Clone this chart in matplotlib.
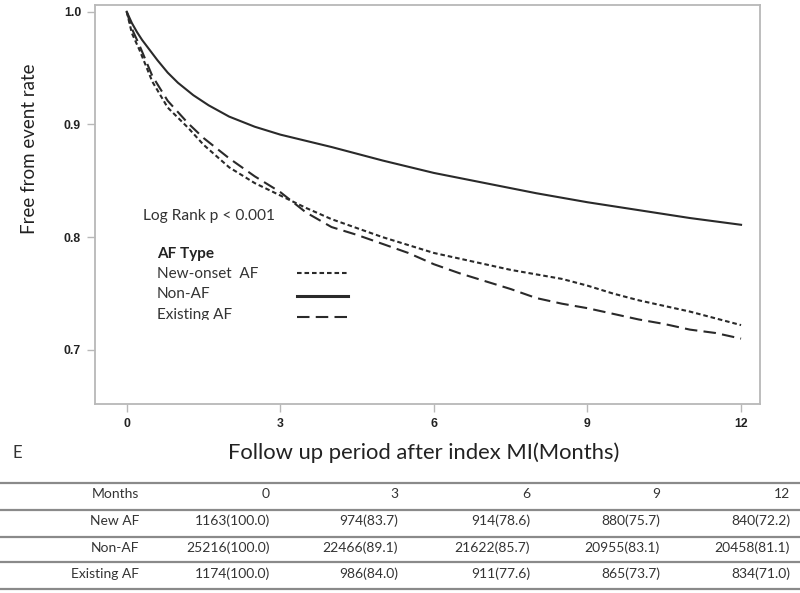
import numpy as np
import matplotlib
matplotlib.use("Agg")
import matplotlib.pyplot as plt
from matplotlib.lines import Line2D
from matplotlib.patches import Rectangle

plt.rcParams["font.family"] = ["Lato", "DejaVu Sans"]

#%%
# curves (months, survival)
months_non = [0, 0.1, 0.2, 0.3, 0.45, 0.6, 0.8, 1.0, 1.3, 1.6, 2.0, 2.5, 3.0, 4.0,
              5.0, 6.0, 7.0, 8.0, 9.0, 10.0, 11.0, 12.0]
surv_non = [1.0, 0.990, 0.982, 0.975, 0.966, 0.957, 0.946, 0.937, 0.926, 0.917,
            0.907, 0.898, 0.891, 0.880, 0.868, 0.857, 0.848, 0.839, 0.831, 0.824,
            0.817, 0.811]

months_af = [0, 0.1, 0.25, 0.5, 0.8, 1.2, 1.5, 2.0, 2.5, 3.0, 3.5, 4.0, 4.5, 5.0,
             5.5, 6.0, 6.5, 7.0, 7.5, 8.0, 8.5, 9.0, 9.5, 10.0, 10.5, 11.0, 11.5, 12.0]
surv_new = [1.0, 0.981, 0.966, 0.938, 0.915, 0.897, 0.882, 0.862, 0.848, 0.837,
            0.826, 0.816, 0.808, 0.800, 0.793, 0.786, 0.781, 0.776, 0.771, 0.767,
            0.763, 0.757, 0.750, 0.744, 0.739, 0.734, 0.728, 0.722]
surv_exist = [1.0, 0.985, 0.970, 0.943, 0.921, 0.901, 0.888, 0.870, 0.854, 0.840,
              0.822, 0.809, 0.802, 0.794, 0.786, 0.776, 0.768, 0.761, 0.754, 0.746,
              0.741, 0.737, 0.732, 0.727, 0.723, 0.718, 0.715, 0.710]

xticks = [0, 3, 6, 9, 12]
yticks = [0.7, 0.8, 0.9, 1.0]

# numbers at risk table
table_header = ["Months", "0", "3", "6", "9", "12"]
table_rows = [
    ["New AF", "1163(100.0)", "974(83.7)", "914(78.6)", "880(75.7)", "840(72.2)"],
    ["Non-AF", "25216(100.0)", "22466(89.1)", "21622(85.7)", "20955(83.1)", "20458(81.1)"],
    ["Existing AF", "1174(100.0)", "986(84.0)", "911(77.6)", "865(73.7)", "834(71.0)"],
]

#%%
W, H = 800, 593
fig = plt.figure(figsize=(W / 100, H / 100), dpi=100)
ax = fig.add_axes([95 / W, 1 - 404 / H, (760 - 95) / W, (404 - 5) / H])

line_col = "#2a2a2a"
short_dash = (0, (2.2, 1.4))
long_dash = (0, (6, 3))
ax.plot(months_af, surv_new, color=line_col, lw=1.5, linestyle=short_dash)
ax.plot(months_non, surv_non, color=line_col, lw=1.5, linestyle="-")
ax.plot(months_af, surv_exist, color=line_col, lw=1.5, linestyle=long_dash)

ax.set_xlim(-0.62, 12.37)
ax.set_ylim(0.652, 1.006)
ax.set_xticks(xticks)
ax.set_yticks(yticks)
ax.set_yticklabels([f"{v:.1f}" for v in yticks])
for s in ax.spines.values():
    s.set_color("#b8b8b8")
    s.set_linewidth(1.3)
ax.tick_params(direction="out", length=6, width=1, color="#b8b8b8",
               labelsize=8.8, labelcolor="#222222", pad=4)
for lab in ax.get_xticklabels() + ax.get_yticklabels():
    lab.set_fontweight("bold")
    lab.set_family("Liberation Sans")

fig.text(30 / W, 1 - 149 / H, "Free from event rate", rotation=90,
         ha="center", va="center", fontsize=13.5, color="#222222")
fig.text(424 / W, 1 - 453 / H, "Follow up period after index MI(Months)",
         ha="center", va="center", fontsize=15.8, color="#222222")
fig.text(12 / W, 1 - 453 / H, "E", ha="left", va="center", fontsize=12,
         color="#333333")

# legend block drawn inside the axes
txt_col = "#333333"
fig.text(143 / W, 1 - 216 / H, "Log Rank p < 0.001", ha="left", va="center",
         fontsize=11.2, color=txt_col)
fig.text(157 / W, 1 - 254 / H, "AF Type", ha="left", va="center",
         fontsize=11, fontweight="bold", color="#222222")
leg_labels = ["New-onset  AF", "Non-AF", "Existing AF"]
leg_styles = [short_dash, "-", long_dash]
leg_y = [274, 294, 315]
leg_line_y = [273, 296, 317]
for lab, ls, ty, ly in zip(leg_labels, leg_styles, leg_y, leg_line_y):
    t = fig.text(157 / W, 1 - ty / H, lab, ha="left", va="center",
                 fontsize=11, color=txt_col)
    if lab == "Existing AF":
        clip = Rectangle((0, 1 - 320 / H), 1, 1, transform=fig.transFigure)
        t.set_clip_path(clip)
    fig.add_artist(Line2D([297 / W, 348 / W], [1 - ly / H, 1 - ly / H],
                          color=line_col, lw=1.5 if ls != "-" else 2.2,
                          linestyle=ls, transform=fig.transFigure))

#%%
# table at the bottom
rule_y = [483, 510, 537, 562, 589]
for y in rule_y:
    fig.add_artist(Line2D([0, 1], [1 - y / H, 1 - y / H], color="#8a8a8a",
                          lw=1.6, transform=fig.transFigure))

col_right = [139, 270, 398, 530, 660, 790]
row_y = [494, 521, 548, 574]
for x, s in zip(col_right, table_header):
    fig.text(x / W, 1 - row_y[0] / H, s, ha="right", va="center",
             fontsize=10, color=txt_col)
for row, y in zip(table_rows, row_y[1:]):
    for x, s in zip(col_right, row):
        fig.text(x / W, 1 - y / H, s, ha="right", va="center",
                 fontsize=10, color=txt_col)

fig.savefig("out.png", dpi=100)
